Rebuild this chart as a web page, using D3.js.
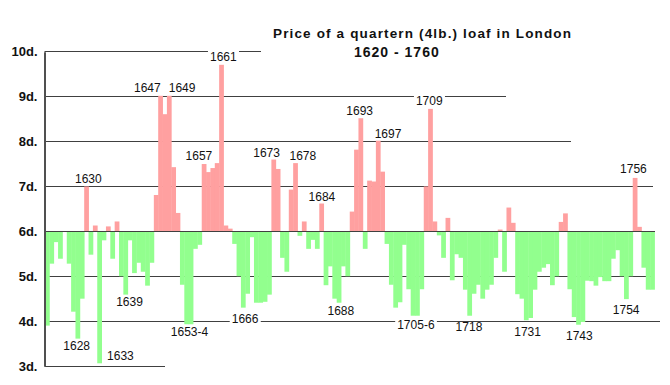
<!DOCTYPE html>
<html>
<head>
<meta charset="utf-8">
<script src="https://cdn.jsdelivr.net/npm/d3@7"></script>
<style>
	body { margin: 0; background: #fff; }
	svg { display: block; font-family: Arial, "Liberation Sans", sans-serif; }
</style>
</head>
<body>
<svg id="chart" width="670" height="385"></svg>
<script>
/*
data. price of the loaf in pence, one value per year.
*/
var firstYear = 1620,
	lastYear = 1760;

var prices = [
	3.90, 3.90, 5.28, 5.76, 5.39, 6.00, 5.28, 4.21, 3.61, 4.50, // 1620
	7.00, 5.48, 6.13, 3.06, 5.80, 6.11, 5.39, 6.22, 5.00, 4.59, // 1630
	5.80, 5.07, 5.30, 5.10, 4.79, 5.30, 6.81, 9.02, 8.61, 9.02, // 1640
	7.43, 6.41, 4.81, 3.93, 3.93, 5.61, 5.70, 7.50, 7.32, 7.41, // 1650
	7.52, 9.71, 6.13, 6.06, 5.72, 5.00, 4.30, 4.61, 5.87, 4.41, // 1660
	4.41, 4.43, 4.59, 7.60, 7.39, 5.41, 5.10, 6.93, 7.52, 5.90, // 1670
	6.22, 5.61, 5.81, 5.61, 6.62, 4.80, 5.22, 4.50, 4.41, 5.22, // 1680
	5.00, 6.44, 7.82, 8.52, 5.61, 7.13, 7.11, 8.02, 7.33, 5.72, // 1690
	4.81, 4.30, 4.42, 5.70, 4.71, 4.12, 4.12, 4.71, 7.00, 8.73, // 1700
	6.22, 5.91, 5.41, 6.30, 4.91, 5.49, 5.41, 4.70, 4.12, 4.61, // 1710
	4.81, 4.50, 4.70, 4.81, 5.41, 6.04, 5.10, 6.53, 6.19, 4.60, // 1720
	4.50, 4.02, 4.07, 4.70, 5.10, 5.19, 5.27, 4.80, 5.00, 6.21, // 1730
	6.40, 4.71, 4.09, 3.92, 3.98, 4.90, 4.89, 4.79, 4.98, 4.89, // 1740
	4.89, 5.39, 5.58, 5.00, 4.49, 5.00, 7.19, 6.10, 5.19, 4.70, // 1750
	4.70                                                        // 1760
];

var years = d3.range(firstYear, lastYear + 1);
var priceTicks = [3, 4, 5, 6, 7, 8, 9, 10];
var basePrice = 6;

var annotations = [
	{ text: "1628", year: 1628 }, { text: "1630", year: 1630 },
	{ text: "1633", year: 1633 }, { text: "1639", year: 1639 },
	{ text: "1647", year: 1647 }, { text: "1649", year: 1649 },
	{ text: "1653-4", year: 1653 }, { text: "1657", year: 1657 },
	{ text: "1661", year: 1661 }, { text: "1666", year: 1666 },
	{ text: "1673", year: 1673 }, { text: "1678", year: 1678 },
	{ text: "1684", year: 1684 }, { text: "1688", year: 1688 },
	{ text: "1693", year: 1693 }, { text: "1697", year: 1697 },
	{ text: "1705-6", year: 1705 }, { text: "1709", year: 1709 },
	{ text: "1718", year: 1718 }, { text: "1731", year: 1731 },
	{ text: "1743", year: 1743 }, { text: "1754", year: 1754 },
	{ text: "1756", year: 1756 }
];

/*
layout.
*/
var axisX = 44.5;
var pink = "#ffa0a0",
	green = "#92ff8e",
	gridColor = "#404040";

// where each price line stops on the right
var gridEnd = { 10: 261, 9: 506, 8: 571, 7: 653, 6: 655, 5: 653, 4: 660, 3: 165 };

// small offsets for the year labels, from the bar end [dx, dy]
var nudge = {
	"1628": [-1, 11], "1630": [2, -3], "1633": [21, -3], "1639": [4, 11],
	"1647": [-13, -4], "1649": [13, -4], "1653-4": [3, 12], "1657": [-5, -4.5],
	"1661": [2, -4], "1666": [2, 15], "1673": [-7, -3], "1678": [7.5, -3],
	"1684": [0.5, -3], "1688": [2, 12], "1693": [-1, -3], "1697": [10, -3],
	"1705-6": [3, 13], "1709": [-1, -3.5], "1718": [-0.5, 15], "1731": [1.5, 16],
	"1743": [1, 15], "1754": [0, 14.5], "1756": [-1.5, -4.5]
};
var boxed = ["1661", "1666", "1705-6", "1709"];

var svg = d3.select("#chart");

var x = d3.scaleBand()
	.domain(years)
	.range([40.65, 654.5])
	.padding(0);

var y = d3.scaleLinear()
	.domain([3, 10])
	.range([366, 51.8]);

function lineY(d) { return Math.floor(y(d)) + 0.5; }

var priceOf = {};
years.forEach(function(yr, i) { priceOf[yr] = prices[i]; });

svg.append("defs").append("clipPath")
	.attr("id", "plotClip")
	.append("rect")
	.attr("x", axisX).attr("y", 0)
	.attr("width", 670 - axisX).attr("height", 385);

// price lines behind the bars
svg.append("g").attr("class", "grid")
	.selectAll("line")
	.data(priceTicks.filter(function(d) { return d !== basePrice; }))
	.enter().append("line")
	.attr("x1", axisX)
	.attr("x2", function(d) { return gridEnd[d]; })
	.attr("y1", lineY)
	.attr("y2", lineY)
	.attr("stroke", gridColor)
	.attr("stroke-width", 1);

// bars, up from 6d. in pink, down in green
svg.append("g").attr("clip-path", "url(#plotClip)")
	.selectAll("rect")
	.data(years)
	.enter().append("rect")
	.attr("x", function(d) { return x(d); })
	.attr("width", x.bandwidth() + 0.4)
	.attr("y", function(d) { return Math.min(y(priceOf[d]), y(basePrice)); })
	.attr("height", function(d) { return Math.abs(y(priceOf[d]) - y(basePrice)); })
	.attr("fill", function(d) { return priceOf[d] >= basePrice ? pink : green; });

// the 6d. line sits on top
svg.append("line")
	.attr("x1", axisX).attr("x2", gridEnd[basePrice])
	.attr("y1", lineY(basePrice)).attr("y2", lineY(basePrice))
	.attr("stroke", gridColor)
	.attr("stroke-width", 1);

// axis
var axis = svg.append("g")
	.attr("transform", "translate(" + axisX + ",0)")
	.call(d3.axisLeft(y)
		.tickValues(priceTicks)
		.tickSize(0)
		.tickSizeOuter(0)
		.tickPadding(7)
		.tickFormat(function(d) { return d + "d."; }));
axis.select(".domain")
	.attr("stroke", "#505050")
	.attr("stroke-width", 2);
axis.selectAll("text")
	.attr("font-family", "Arial, 'Liberation Sans', sans-serif")
	.attr("font-size", 13)
	.attr("font-weight", "bold")
	.attr("fill", "#111");

// year labels
var labels = svg.append("g").attr("class", "labels")
	.selectAll("g")
	.data(annotations)
	.enter().append("g");

labels.append("text")
	.attr("text-anchor", "middle")
	.attr("font-size", 12)
	.attr("fill", "#111")
	.attr("x", function(d) { return x(d.year) + x.bandwidth() / 2 + nudge[d.text][0]; })
	.attr("y", function(d) { return y(priceOf[d.year]) + nudge[d.text][1]; })
	.text(function(d) { return d.text; });

labels.filter(function(d) { return boxed.indexOf(d.text) >= 0; })
	.each(function() {
		var g = d3.select(this),
			b = g.select("text").node().getBBox();
		g.insert("rect", "text")
			.attr("x", b.x - 2).attr("y", b.y)
			.attr("width", b.width + 4).attr("height", b.height)
			.attr("fill", "#fff");
	});

// title
svg.append("text")
	.attr("x", 273).attr("y", 38)
	.attr("font-size", 13.5).attr("font-weight", "bold")
	.attr("letter-spacing", 1.15)
	.attr("fill", "#111")
	.text("Price of a quartern (4lb.) loaf in London");
svg.append("text")
	.attr("x", 354).attr("y", 57)
	.attr("font-size", 14).attr("font-weight", "bold")
	.attr("letter-spacing", 1)
	.attr("fill", "#111")
	.text("1620 - 1760");
</script>
</body>
</html>
